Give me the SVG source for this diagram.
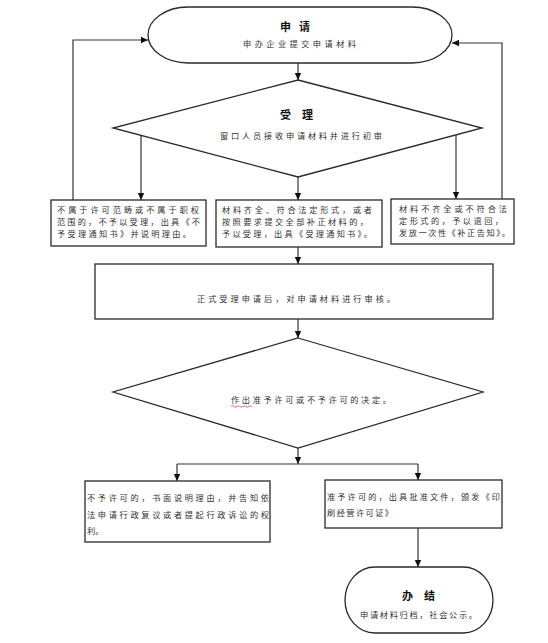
<svg xmlns="http://www.w3.org/2000/svg" width="548" height="643" viewBox="0 0 548 643">
<style>
.shape{fill:#fff;stroke:#2a2a2a;stroke-width:1.3}
.con{fill:none;stroke:#333;stroke-width:1.2}
text{font-family:"Noto Sans CJK SC","Noto Sans",sans-serif;fill:#333;font-size:8.2px}
.t{font-weight:bold;font-size:11px;fill:#111}
</style>
<defs>
<marker id="arr" markerWidth="8" markerHeight="8" refX="7" refY="4" orient="auto" markerUnits="userSpaceOnUse">
<path d="M0,0.8 L7,4 L0,7.2 Z" fill="#111"/>
</marker>
</defs>
<rect width="548" height="643" fill="#fff"/>
<g id="connectors">
<line class="con" x1="298" y1="63" x2="298" y2="80" marker-end="url(#arr)"/>
<line class="con" x1="141" y1="135" x2="141" y2="200" marker-end="url(#arr)"/>
<line class="con" x1="298" y1="177" x2="298" y2="200" marker-end="url(#arr)"/>
<line class="con" x1="456" y1="135" x2="456" y2="199" marker-end="url(#arr)"/>
<polyline class="con" points="73,200 73,40 148,40" marker-end="url(#arr)"/>
<polyline class="con" points="502,199 502,43 452,43" marker-end="url(#arr)"/>
<line class="con" x1="298" y1="247" x2="298" y2="264" marker-end="url(#arr)"/>
<line class="con" x1="298" y1="319" x2="298" y2="338" marker-end="url(#arr)"/>
<line class="con" x1="298" y1="448" x2="298" y2="464" marker-end="url(#arr)"/>
<line class="con" x1="177" y1="464" x2="418" y2="464"/>
<line class="con" x1="177" y1="464" x2="177" y2="481" marker-end="url(#arr)"/>
<line class="con" x1="418" y1="464" x2="418" y2="480" marker-end="url(#arr)"/>
<line class="con" x1="418" y1="528" x2="418" y2="567" marker-end="url(#arr)"/>
</g>
<g id="apply">
<rect class="shape" x="148" y="7" width="304" height="56" rx="40" ry="28"/>
<text class="t" x="280" y="31" textLength="30" lengthAdjust="spacing">申请</text>
<text x="243" y="47" textLength="113" lengthAdjust="spacing">申办企业提交申请材料</text>
</g>
<g id="accept">
<polygon class="shape" points="298,80 482,128 298,177 113,128"/>
<text class="t" x="280" y="119" textLength="33" lengthAdjust="spacing">受理</text>
<text x="220" y="139" textLength="162" lengthAdjust="spacing">窗口人员接收申请材料并进行初审</text>
</g>
<g id="reject1">
<rect class="shape" x="51" y="200" width="155" height="46"/>
<text><tspan x="57" y="213" textLength="142" lengthAdjust="spacing">不属于许可范畴或不属于职权</tspan><tspan x="57" y="225" textLength="143" lengthAdjust="spacing">范围的，不予以受理，出具《不</tspan><tspan x="57" y="237" textLength="134" lengthAdjust="spacing">予受理通知书》并说明理由。</tspan></text>
</g>
<g id="accepted">
<rect class="shape" x="216" y="200" width="166" height="47"/>
<text><tspan x="222" y="213" textLength="150" lengthAdjust="spacing">材料齐全、符合法定形式，或者</tspan><tspan x="222" y="225" textLength="146" lengthAdjust="spacing">按照要求提交全部补正材料的，</tspan><tspan x="222" y="237" textLength="150" lengthAdjust="spacing">予以受理，出具《受理通知书》。</tspan></text>
</g>
<g id="incomplete">
<rect class="shape" x="391" y="199" width="123" height="45"/>
<text><tspan x="399" y="212" textLength="108" lengthAdjust="spacing">材料不齐全或不符合法</tspan><tspan x="399" y="224" textLength="104" lengthAdjust="spacing">定形式的，予以退回，</tspan><tspan x="399" y="236" textLength="111" lengthAdjust="spacing">发放一次性《补正告知》。</tspan></text>
</g>
<g id="review">
<rect class="shape" x="95" y="264" width="398" height="55"/>
<text x="197" y="302" textLength="198" lengthAdjust="spacing">正式受理申请后，对申请材料进行审核。</text>
</g>
<g id="decision">
<polygon class="shape" points="298,338 483,392 298,448 113,392"/>
<text x="231" y="403" textLength="160" lengthAdjust="spacing">作出准予许可或不予许可的决定。</text>
<path d="M231,406.5 q1.5,-1.5 3,0 t3,0 t3,0 t3,0 t3,0 t3,0 t3,0" fill="none" stroke="#e03030" stroke-width="0.7"/>
</g>
<g id="deny">
<rect class="shape" x="85" y="481" width="185" height="61"/>
<text><tspan x="87" y="501" textLength="182" lengthAdjust="spacing">不予许可的，书面说明理由，并告知依</tspan><tspan x="87" y="518" textLength="182" lengthAdjust="spacing">法申请行政复议或者提起行政诉讼的权</tspan><tspan x="87" y="534">利。</tspan></text>
</g>
<g id="grant">
<rect class="shape" x="325" y="480" width="177" height="48"/>
<text><tspan x="327" y="500" textLength="173" lengthAdjust="spacing">准予许可的，出具批准文件，颁发《印</tspan><tspan x="327" y="516" textLength="66" lengthAdjust="spacing">刷经营许可证》</tspan></text>
</g>
<g id="finish">
<rect class="shape" x="345" y="567" width="148" height="66" rx="30" ry="33"/>
<text class="t" x="402" y="600" textLength="33" lengthAdjust="spacing">办结</text>
<text x="360" y="618" textLength="117" lengthAdjust="spacing">申请材料归档，社会公示。</text>
</g>
</svg>
